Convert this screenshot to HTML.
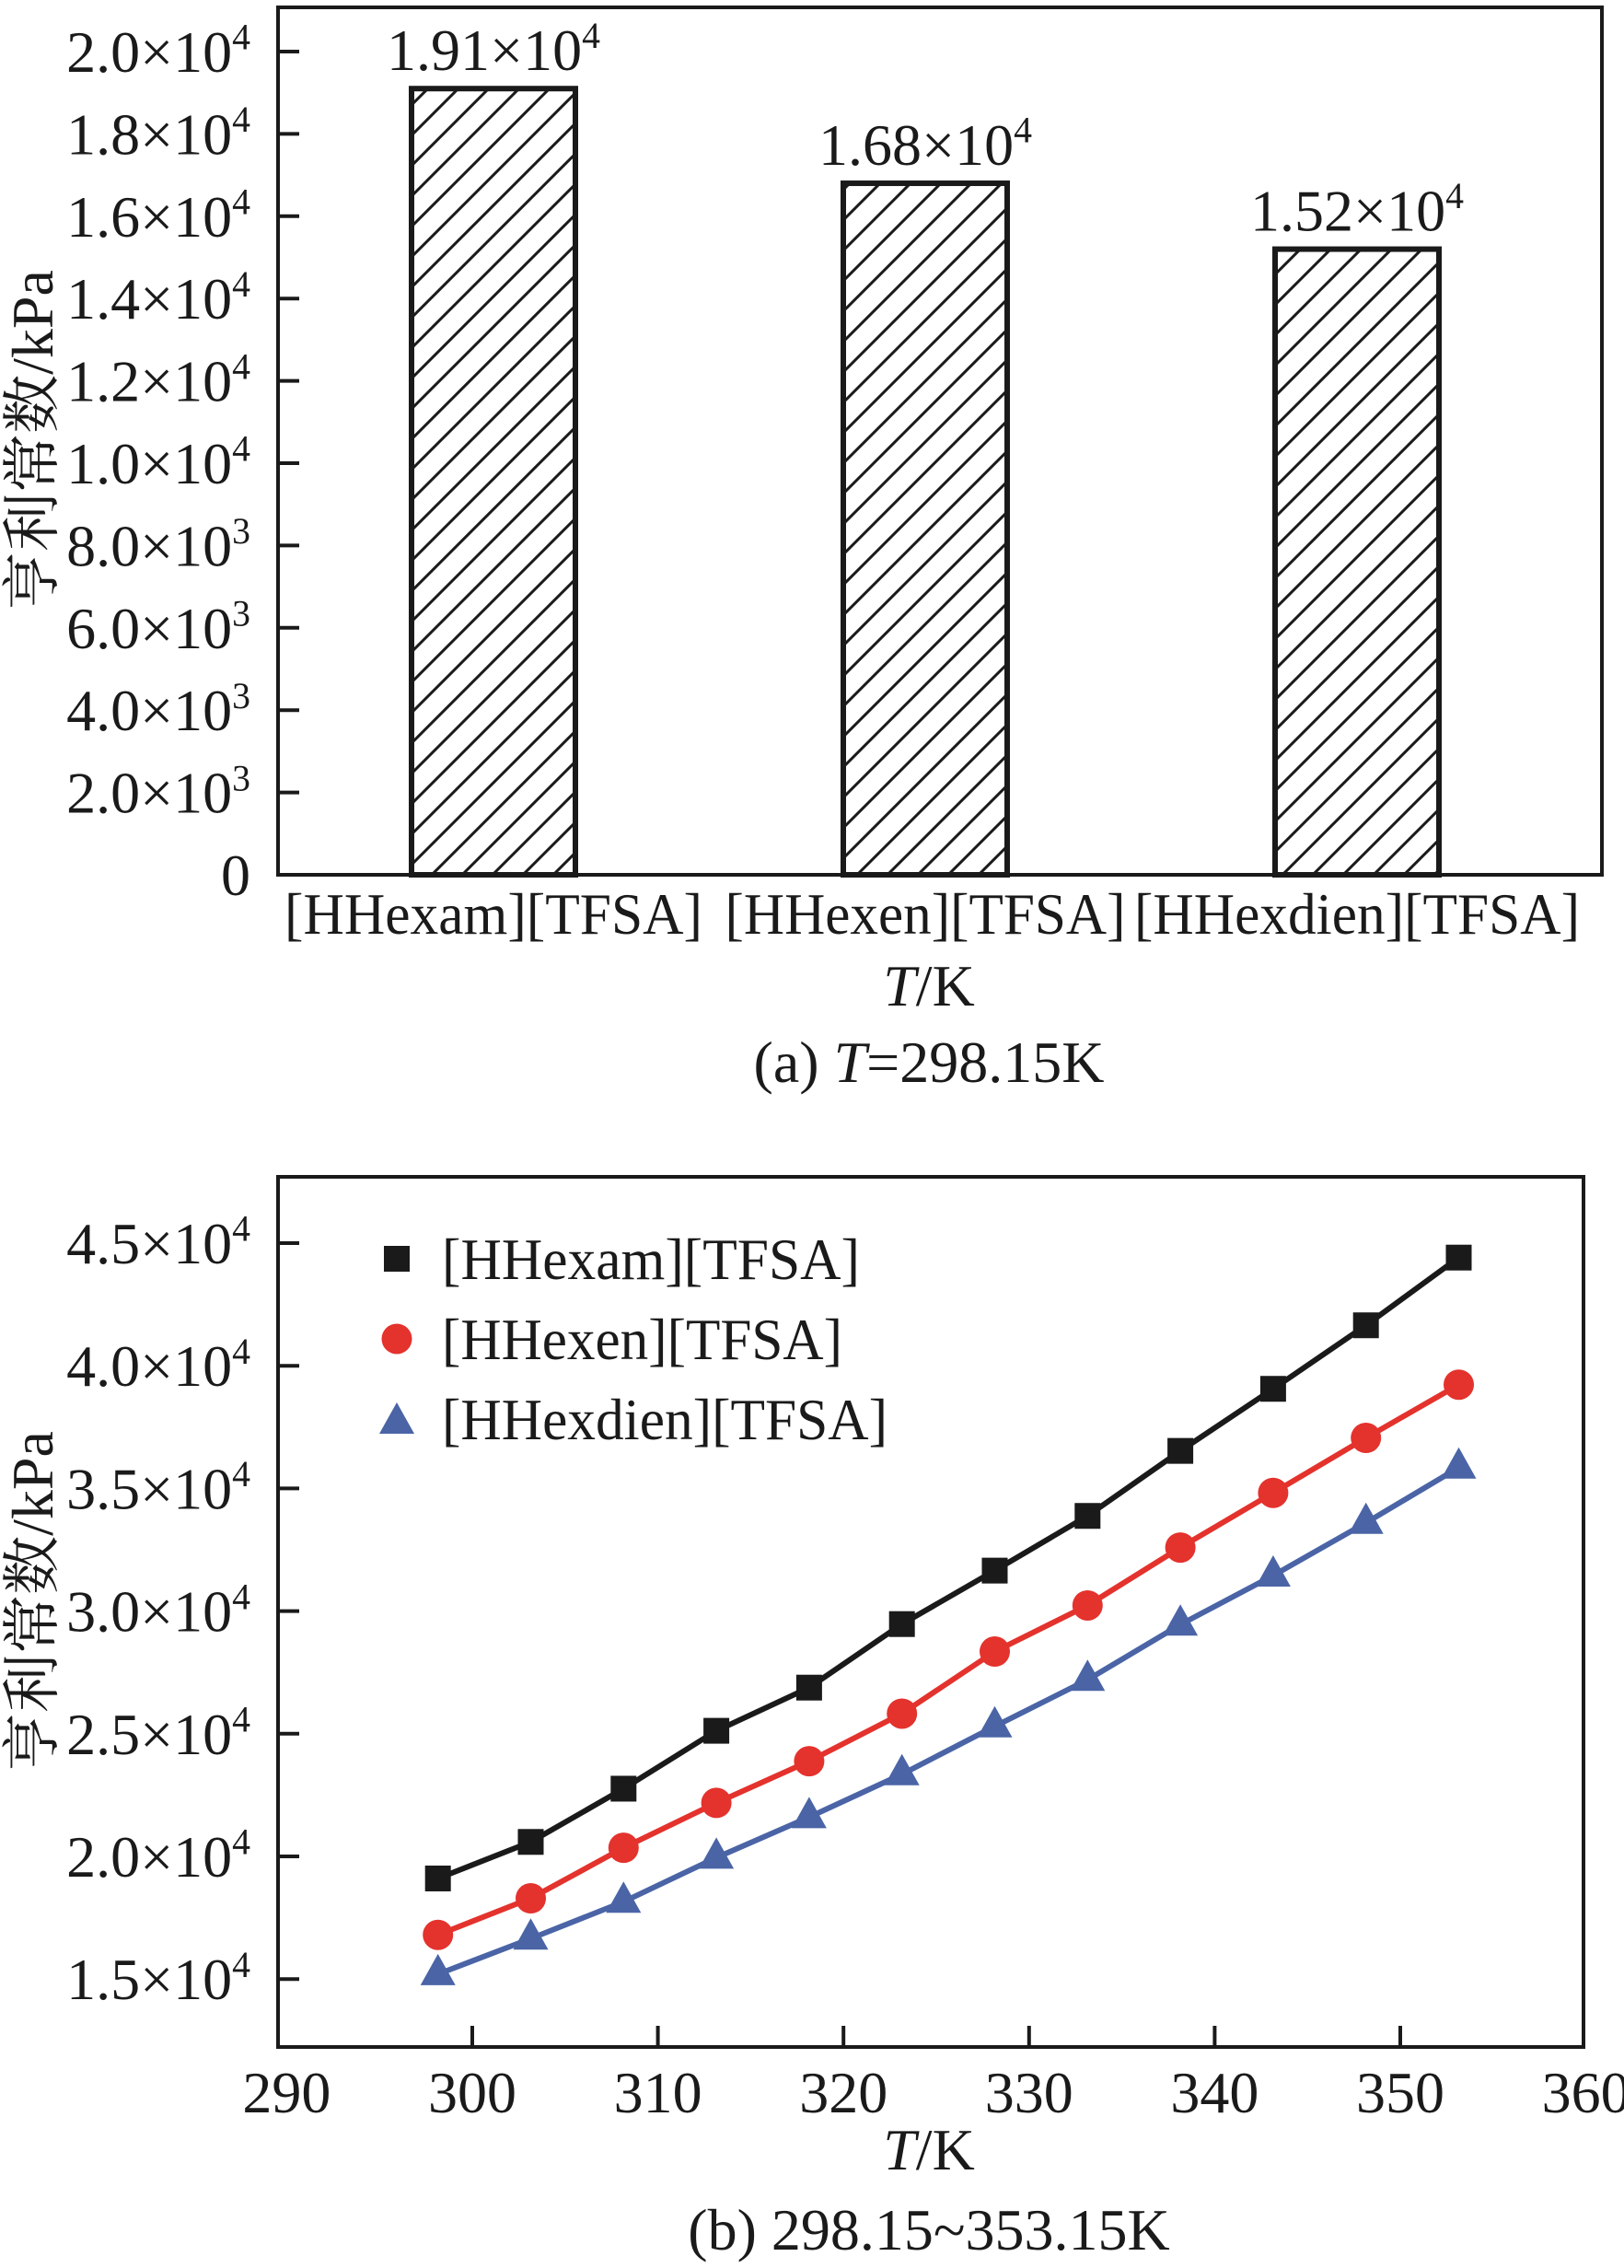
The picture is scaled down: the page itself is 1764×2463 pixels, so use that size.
<!DOCTYPE html>
<html><head><meta charset="utf-8"><style>
html,body{margin:0;padding:0;background:#fff;}
svg{display:block;font-family:"Liberation Serif","Noto Serif CJK SC",serif;}
</style></head><body>
<svg id="fig" width="1764" height="2463" viewBox="0 0 1764 2463">
<defs>
<pattern id="hatch" patternUnits="userSpaceOnUse" width="33" height="33">
<path d="M-5,38 L38,-5 M-5,5 L5,-5 M28,38 L38,28" stroke="#1a1a1a" stroke-width="3"/>
</pattern>
</defs>
<g id="panelA"></g>
<g id="panelB"></g>
</svg>
<script>
// Panel (a) data
const barCategories = ["[HHexam][TFSA]", "[HHexen][TFSA]", "[HHexdien][TFSA]"];
const barValues = [19100, 16800, 15200];
const barLabels = ["1.91×10", "1.68×10", "1.52×10"];
const barYTicks = [0, 2000, 4000, 6000, 8000, 10000, 12000, 14000, 16000, 18000, 20000];
const barYTickMant = ["0", "2.0×10", "4.0×10", "6.0×10", "8.0×10", "1.0×10", "1.2×10", "1.4×10", "1.6×10", "1.8×10", "2.0×10"];
const barYTickExp = ["", "3", "3", "3", "3", "4", "4", "4", "4", "4", "4"];

// Panel (b) data
const temps = [298.15, 303.15, 308.15, 313.15, 318.15, 323.15, 328.15, 333.15, 338.15, 343.15, 348.15, 353.15];
const hexamValues = [19100, 20590, 22760, 25120, 26880, 29470, 31650, 33880, 36530, 39060, 41650, 44410];
const hexenValues = [16800, 18290, 20350, 22180, 23880, 25820, 28350, 30230, 32590, 34820, 37060, 39230];
const hexdienValues = [15200, 16650, 18150, 19950, 21600, 23350, 25300, 27200, 29450, 31450, 33600, 35850];
const seriesNames = ["[HHexam][TFSA]", "[HHexen][TFSA]", "[HHexdien][TFSA]"];
const lineXTicks = [290, 300, 310, 320, 330, 340, 350, 360];
const lineYTicks = [15000, 20000, 25000, 30000, 35000, 40000, 45000];
const lineYTickMant = ["1.5×10", "2.0×10", "2.5×10", "3.0×10", "3.5×10", "4.0×10", "4.5×10"];

const FS = 64;
const labelWidths = [454, 435, 484];
const NS = "http://www.w3.org/2000/svg";
function mk(parent, tag, attrs, text) {
  const e = document.createElementNS(NS, tag);
  for (const k in attrs) e.setAttribute(k, attrs[k]);
  if (text !== undefined) e.textContent = text;
  parent.appendChild(e);
  return e;
}
function supText(parent, x, y, mant, exp, anchor, size) {
  const t = mk(parent, "text", {x: x, y: y, "font-size": size, "text-anchor": anchor, fill: "#1a1a1a"});
  mk(t, "tspan", {}, mant);
  if (exp) mk(t, "tspan", {dy: -size * 0.38, "font-size": size * 0.62}, exp);
  return t;
}

// ---------- Panel A ----------
const A = document.getElementById("panelA");
const aL = 302, aR = 1740, aT = 8, aB = 950;
const ay = v => aB - (v - 0) / 20000 * (aB - 56);
const ax = i => 536 + i * 469;
const barW = 178;

for (let i = 0; i < barValues.length; i++) {
  const r = mk(A, "rect", {x: ax(i) - barW / 2, y: ay(barValues[i]), width: barW, height: aB - ay(barValues[i]), fill: "url(#hatch)", stroke: "#1a1a1a", "stroke-width": 6});
  
  
  const lb = supText(A, ax(i), ay(barValues[i]) - 20, barLabels[i], "4", "middle", FS);
  
  
  const cl = mk(A, "text", {x: ax(i), y: 1014, "font-size": FS, "text-anchor": "middle", textLength: labelWidths[i], lengthAdjust: "spacingAndGlyphs", fill: "#1a1a1a"}, barCategories[i]);
  
  
}
const aFrame = mk(A, "rect", {x: aL, y: aT, width: aR - aL, height: aB - aT, fill: "none", stroke: "#1a1a1a", "stroke-width": 4});


for (let i = 0; i < barYTicks.length; i++) {
  const y = ay(barYTicks[i]);
  if (i > 0) {
    const tk = mk(A, "line", {x1: aL, x2: aL + 23, y1: y, y2: y, stroke: "#1a1a1a", "stroke-width": 4});
    
    
  }
  const tl = supText(A, 272, y + 22, barYTickMant[i], barYTickExp[i], "end", FS);
  
  
}
const aYT = mk(A, "text", {x: 0, y: 0, "font-size": FS, "text-anchor": "middle", transform: "translate(57,478) rotate(-90)", fill: "#1a1a1a"}, "亨利常数/kPa");


const aXT = mk(A, "text", {x: 1009, y: 1092, "font-size": FS, "text-anchor": "middle", fill: "#1a1a1a"});
mk(aXT, "tspan", {"font-style": "italic"}, "T");
mk(aXT, "tspan", {}, "/K");


const aCap = mk(A, "text", {x: 1009, y: 1175, "font-size": FS, "text-anchor": "middle", fill: "#1a1a1a"});
mk(aCap, "tspan", {}, "(a) ");
mk(aCap, "tspan", {"font-style": "italic"}, "T");
mk(aCap, "tspan", {}, "=298.15K");



// ---------- Panel B ----------
const B = document.getElementById("panelB");
const bL = 302, bR = 1720, bT = 1278, bB = 2223;
const bx = t => 513 + (t - 300) * (1521 - 513) / 50;
const by = v => 2016 - (v - 20000) * (2016 - 1350) / 25000;

const bFrame = mk(B, "rect", {x: bL, y: bT, width: bR - bL, height: bB - bT, fill: "none", stroke: "#1a1a1a", "stroke-width": 4});


for (let i = 0; i < lineXTicks.length; i++) {
  const x = bx(lineXTicks[i]);
  if (i > 0 && i < lineXTicks.length - 1) {
    const tk = mk(B, "line", {x1: x, x2: x, y1: bB, y2: bB - 23, stroke: "#1a1a1a", "stroke-width": 4});
    
    
  }
  const tl = mk(B, "text", {x: x, y: 2294, "font-size": FS, "text-anchor": "middle", fill: "#1a1a1a"}, String(lineXTicks[i]));
  
  
}
for (let i = 0; i < lineYTicks.length; i++) {
  const y = by(lineYTicks[i]);
  const tk = mk(B, "line", {x1: bL, x2: bL + 23, y1: y, y2: y, stroke: "#1a1a1a", "stroke-width": 4});
  
  
  const tl = supText(B, 272, y + 22, lineYTickMant[i], "4", "end", FS);
  
  
}
const colors = ["#1a1a1a", "#e4322d", "#4a64a6"];
const seriesData = [hexamValues, hexenValues, hexdienValues];
function marker(g, k, x, y) {
  let m;
  if (k === 0) m = mk(g, "rect", {x: x - 14, y: y - 14, width: 28, height: 28, fill: colors[0]});
  else if (k === 1) m = mk(g, "circle", {cx: x, cy: y, r: 16.5, fill: colors[1]});
  else m = mk(g, "polygon", {points: (x - 19) + "," + (y + 12) + " " + (x + 19) + "," + (y + 12) + " " + x + "," + (y - 22), fill: colors[2]});
  return m;
}
for (let k = 0; k < 3; k++) {
  const g = mk(B, "g", {});
  
  
  const pts = temps.map((t, i) => bx(t) + "," + by(seriesData[k][i])).join(" ");
  const pl = mk(g, "polyline", {points: pts, fill: "none", stroke: colors[k], "stroke-width": 6});
  
  
  for (let i = 0; i < temps.length; i++) {
    const m = marker(g, k, bx(temps[i]), by(seriesData[k][i]));
    
    
  }
  const lg = mk(B, "g", {});
  
  
  const ly = 1367 + k * 87;
  marker(lg, k, 431, k === 2 ? ly + 4 : ly);
  mk(lg, "text", {x: 480, y: ly + 22, "font-size": FS, textLength: labelWidths[k], lengthAdjust: "spacingAndGlyphs", fill: "#1a1a1a"}, seriesNames[k]);
}
const bYT = mk(B, "text", {x: 0, y: 0, "font-size": FS, "text-anchor": "middle", transform: "translate(57,1739) rotate(-90)", fill: "#1a1a1a"}, "亨利常数/kPa");


const bXT = mk(B, "text", {x: 1009, y: 2356, "font-size": FS, "text-anchor": "middle", fill: "#1a1a1a"});
mk(bXT, "tspan", {"font-style": "italic"}, "T");
mk(bXT, "tspan", {}, "/K");


const bCap = mk(B, "text", {x: 1009, y: 2443, "font-size": FS, "text-anchor": "middle", fill: "#1a1a1a"}, "(b) 298.15~353.15K");


</script>
</body></html>
